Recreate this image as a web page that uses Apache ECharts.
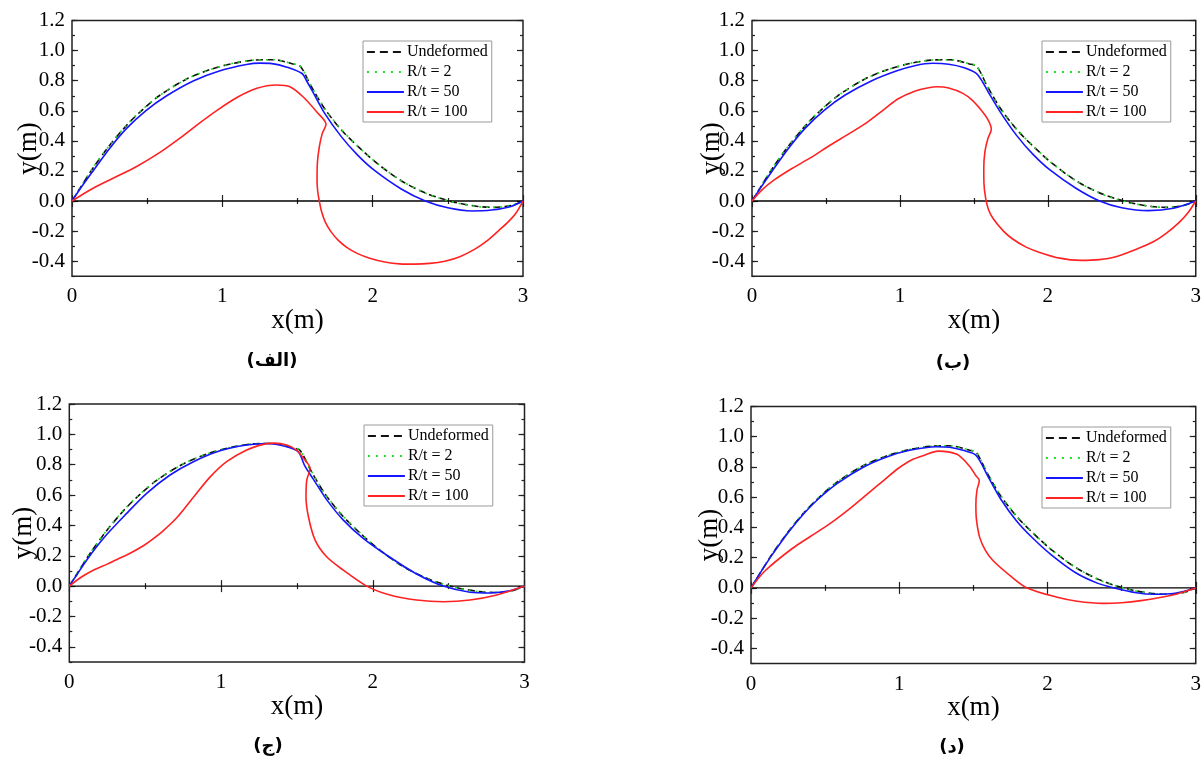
<!DOCTYPE html>
<html><head><meta charset="utf-8">
<script src="https://cdn.jsdelivr.net/npm/echarts@6/dist/echarts.min.js"></script>
<style>html,body{margin:0;padding:0;background:#fff}#c{width:1204px;height:763px}</style>
</head><body><div id="c"></div><script>
// ---------- data ----------
const seriesNames = ['Undeformed', 'R/t = 2', 'R/t = 50', 'R/t = 100'];
const panelLabels = ['(الف)', '(ب)', '(ج)', '(د)'];
const xTickValues = [0, 1, 2, 3];
const yTickValues = [-0.4, -0.2, 0, 0.2, 0.4, 0.6, 0.8, 1.0, 1.2];
const zeroLine = [[0, 0], [3, 0]];

const undeformed = [[0,0],[0.05,0.08],[0.14,0.22],[0.25,0.37],[0.36,0.50],[0.45,0.59],[0.58,0.70],[0.76,0.81],[0.92,0.875],[1.07,0.915],[1.21,0.937],[1.34,0.94],[1.47,0.912],[1.52,0.895],[1.59,0.765],[1.68,0.615],[1.79,0.475],[1.9,0.365],[2.03,0.25],[2.19,0.135],[2.34,0.058],[2.45,0.018],[2.57,-0.014],[2.7,-0.036],[2.8,-0.042],[2.92,-0.03],[3,0]];
const rt2 = [[0,0],[0.05,0.082],[0.14,0.222],[0.25,0.372],[0.36,0.502],[0.45,0.592],[0.58,0.70],[0.76,0.81],[0.92,0.875],[1.07,0.916],[1.21,0.937],[1.34,0.94],[1.47,0.913],[1.52,0.897],[1.59,0.767],[1.68,0.617],[1.79,0.477],[1.9,0.366],[2.03,0.25],[2.19,0.135],[2.34,0.057],[2.45,0.017],[2.57,-0.015],[2.7,-0.037],[2.8,-0.042],[2.92,-0.03],[3,0]];

const rt50A = [[0,0],[0.05,0.075],[0.14,0.2],[0.25,0.35],[0.36,0.48],[0.49,0.6],[0.63,0.7],[0.81,0.8],[0.98,0.865],[1.16,0.908],[1.25,0.917],[1.33,0.914],[1.43,0.89],[1.53,0.848],[1.56,0.8],[1.6,0.73],[1.68,0.585],[1.79,0.43],[1.9,0.305],[2.01,0.205],[2.19,0.08],[2.35,0.0],[2.5,-0.045],[2.66,-0.066],[2.79,-0.06],[2.92,-0.036],[3,0]];
const rt100A = [[0,0],[0.14,0.085],[0.27,0.15],[0.43,0.23],[0.58,0.32],[0.72,0.42],[0.85,0.52],[0.96,0.6],[1.1,0.69],[1.23,0.75],[1.36,0.772],[1.45,0.76],[1.54,0.69],[1.63,0.59],[1.69,0.51],[1.665,0.45],[1.645,0.36],[1.632,0.25],[1.63,0.13],[1.635,0.06],[1.645,0.0],[1.66,-0.07],[1.685,-0.14],[1.72,-0.2],[1.77,-0.26],[1.83,-0.31],[1.9,-0.35],[1.98,-0.38],[2.08,-0.405],[2.18,-0.418],[2.28,-0.42],[2.38,-0.415],[2.48,-0.4],[2.58,-0.37],[2.68,-0.32],[2.76,-0.265],[2.84,-0.195],[2.9,-0.14],[2.95,-0.085],[3,0]];

const rt50B = [[0,0],[0.05,0.076],[0.14,0.205],[0.25,0.355],[0.36,0.485],[0.49,0.605],[0.63,0.705],[0.81,0.8],[0.98,0.866],[1.1,0.9],[1.22,0.916],[1.33,0.91],[1.43,0.888],[1.516,0.849],[1.56,0.79],[1.6,0.72],[1.68,0.59],[1.79,0.435],[1.9,0.31],[2.01,0.21],[2.19,0.085],[2.35,0.0],[2.5,-0.045],[2.68,-0.064],[2.85,-0.048],[3,0]];
const rt100B = [[0,0],[0.064,0.071],[0.15,0.14],[0.27,0.216],[0.4,0.29],[0.527,0.371],[0.66,0.45],[0.783,0.527],[0.9,0.615],[0.989,0.68],[1.1,0.73],[1.194,0.753],[1.25,0.76],[1.33,0.752],[1.426,0.716],[1.49,0.67],[1.545,0.61],[1.593,0.545],[1.618,0.478],[1.595,0.416],[1.575,0.33],[1.567,0.22],[1.568,0.12],[1.58,0.016],[1.6,-0.06],[1.631,-0.118],[1.7,-0.2],[1.76,-0.251],[1.85,-0.305],[1.94,-0.34],[2.08,-0.38],[2.222,-0.395],[2.35,-0.39],[2.453,-0.373],[2.6,-0.32],[2.71,-0.273],[2.8,-0.215],[2.89,-0.14],[2.95,-0.075],[3,0]];

const rt50C = [[0,0],[0.05,0.075],[0.114,0.171],[0.224,0.314],[0.378,0.479],[0.51,0.611],[0.664,0.732],[0.818,0.82],[0.993,0.892],[1.169,0.93],[1.3,0.94],[1.433,0.918],[1.51,0.884],[1.553,0.79],[1.608,0.705],[1.696,0.57],[1.806,0.435],[1.937,0.315],[2.113,0.19],[2.289,0.08],[2.465,0.0],[2.641,-0.04],[2.773,-0.045],[2.905,-0.031],[3,0]];
const rt100C = [[0,0],[0.08,0.06],[0.158,0.105],[0.25,0.145],[0.334,0.185],[0.41,0.222],[0.488,0.266],[0.55,0.31],[0.62,0.366],[0.708,0.45],[0.818,0.585],[0.927,0.718],[1.037,0.82],[1.169,0.897],[1.279,0.934],[1.345,0.942],[1.433,0.93],[1.5,0.895],[1.543,0.842],[1.587,0.776],[1.565,0.699],[1.56,0.589],[1.576,0.457],[1.62,0.303],[1.696,0.193],[1.806,0.105],[1.96,0.0],[2.113,-0.059],[2.289,-0.092],[2.465,-0.103],[2.641,-0.092],[2.817,-0.059],[3,0]];

const rt50D = [[0,0],[0.05,0.08],[0.14,0.215],[0.25,0.365],[0.36,0.495],[0.45,0.585],[0.58,0.69],[0.76,0.8],[0.92,0.868],[1.07,0.91],[1.248,0.934],[1.34,0.93],[1.43,0.91],[1.517,0.878],[1.6,0.735],[1.683,0.59],[1.79,0.445],[1.9,0.33],[2.03,0.215],[2.19,0.1],[2.34,0.03],[2.45,0.0],[2.6,-0.032],[2.72,-0.042],[2.86,-0.035],[3,0]];
const rt100D = [[0,0],[0.097,0.115],[0.276,0.259],[0.4,0.34],[0.532,0.425],[0.66,0.52],[0.788,0.624],[0.9,0.715],[0.992,0.79],[1.08,0.845],[1.171,0.878],[1.261,0.905],[1.33,0.9],[1.40,0.878],[1.478,0.8],[1.515,0.745],[1.54,0.71],[1.524,0.646],[1.517,0.55],[1.52,0.46],[1.542,0.336],[1.58,0.25],[1.632,0.181],[1.76,0.071],[1.862,0],[2.066,-0.062],[2.2,-0.088],[2.373,-0.102],[2.5,-0.098],[2.63,-0.084],[2.83,-0.05],[3,0]];

const panelBlue = [rt50A, rt50B, rt50C, rt50D];
const panelRed = [rt100A, rt100B, rt100C, rt100D];

// ---------- layout / style ----------
const grids = [
  {left: 72, top: 20.6, width: 451, height: 255.6},
  {left: 752, top: 20.6, width: 449, height: 255.6},
  {left: 69.3, top: 404, width: 455.2, height: 258},
  {left: 751, top: 406.5, width: 450, height: 257}
];
const legendPos = [{left: 363, top: 41}, {left: 1042, top: 41}, {left: 364, top: 425}, {left: 1042, top: 427}];
const captionPos = [[272, 361], [953, 363], [268, 746], [952, 747]];
const yNameGap = [30, 27, 32, 28];
const serif = '"Liberation Serif", "Times New Roman", serif';
const colors = ['#111111', '#22dd22', '#1515ff', '#ff2222'];
const dashes = [[7, 4], [2, 5], 'solid', 'solid'];
const legendDashes = [[8, 5], [2, 6], 'solid', 'solid'];
const frameColor = '#222';

const option = {
  animation: false,
  backgroundColor: '#fff',
  grid: [], xAxis: [], yAxis: [], series: [], legend: [], graphic: []
};

grids.forEach((g, i) => {
  option.grid.push(Object.assign({show: true, borderColor: frameColor, borderWidth: 1.5, backgroundColor: 'transparent'}, g));
  const xb = option.xAxis.length;
  option.xAxis.push({
    type: 'value', gridIndex: i, min: 0, max: 3, interval: 1, position: 'bottom',
    name: 'x(m)', nameLocation: 'middle', nameGap: 31, nameMoveOverlap: false,
    nameTextStyle: {fontFamily: serif, fontSize: 27, color: '#000'},
    axisLine: {show: false},
    axisTick: {show: true, inside: true, length: 6, lineStyle: {color: frameColor, width: 1.2}},
    minorTick: {show: true, splitNumber: 2, length: 3, lineStyle: {color: frameColor, width: 1.2}},
    axisLabel: {fontFamily: serif, fontSize: 21, color: '#000', margin: 10},
    splitLine: {show: false}, minorSplitLine: {show: false}
  });
  option.xAxis.push({
    type: 'value', gridIndex: i, min: 0, max: 3, interval: 1, position: 'top',
    axisLine: {show: false},
    axisTick: {show: true, inside: true, length: 6, lineStyle: {color: frameColor, width: 1.2}},
    minorTick: {show: true, splitNumber: 2, length: 3, lineStyle: {color: frameColor, width: 1.2}},
    axisLabel: {show: false}, splitLine: {show: false}
  });
  const yl = option.yAxis.length;
  option.yAxis.push({
    type: 'value', gridIndex: i, min: -0.5, max: 1.2, position: 'left',
    name: 'y(m)', nameLocation: 'middle', nameGap: yNameGap[i], nameMoveOverlap: false,
    nameTextStyle: {fontFamily: serif, fontSize: 27, color: '#000'},
    axisLine: {show: false},
    axisTick: {show: true, inside: true, length: 6, customValues: yTickValues, lineStyle: {color: frameColor, width: 1.2}},
    axisLabel: {fontFamily: serif, fontSize: 21, color: '#000', margin: 7, customValues: yTickValues,
      formatter: v => v.toFixed(1)},
    splitLine: {show: false}
  });
  option.yAxis.push({
    type: 'value', gridIndex: i, min: -0.5, max: 1.2, interval: 0.1, position: 'left',
    axisLine: {show: false},
    axisTick: {show: true, inside: true, length: 3, lineStyle: {color: frameColor, width: 1.2}},
    axisLabel: {show: false}, splitLine: {show: false}
  });
  option.yAxis.push({
    type: 'value', gridIndex: i, min: -0.5, max: 1.2, position: 'right',
    axisLine: {show: false},
    axisTick: {show: true, inside: true, length: 6, customValues: yTickValues, lineStyle: {color: frameColor, width: 1.2}},
    axisLabel: {show: false}, splitLine: {show: false}
  });
  option.yAxis.push({
    type: 'value', gridIndex: i, min: -0.5, max: 1.2, interval: 0.1, position: 'right',
    axisLine: {show: false},
    axisTick: {show: true, inside: true, length: 3, lineStyle: {color: frameColor, width: 1.2}},
    axisLabel: {show: false}, splitLine: {show: false}
  });

  const base = {type: 'line', xAxisIndex: xb, yAxisIndex: yl, showSymbol: false, symbol: 'none', smooth: 0.3, silent: true, clip: true};
  option.series.push(Object.assign({}, base, {name: '_zero', data: zeroLine, smooth: false, lineStyle: {color: '#000', width: 1.4}, z: 1}));
  const dataSets = [undeformed, rt2, panelBlue[i], panelRed[i]];
  seriesNames.forEach((nm, k) => {
    option.series.push(Object.assign({}, base, {
      name: nm, data: dataSets[k],
      lineStyle: {color: colors[k], width: 1.6, type: dashes[k]},
      itemStyle: {color: colors[k]}, z: 2 + k
    }));
  });

  option.legend.push(Object.assign({
    data: seriesNames.map((nm, k) => ({name: nm, lineStyle: {type: legendDashes[k], width: 1.8}})),
    orient: 'vertical', selectedMode: false,
    itemWidth: 37, itemHeight: 14, itemGap: 4,
    padding: [3, 4, 2, 3],
    borderColor: '#9a9a9a', borderWidth: 1, backgroundColor: '#fff',
    itemStyle: {opacity: 0, borderWidth: 0},
    textStyle: {fontFamily: serif, fontSize: 16, color: '#000', lineHeight: 16, padding: [0, 0, 0, -2]}
  }, legendPos[i]));

  option.graphic.push({
    type: 'text', x: captionPos[i][0], y: captionPos[i][1],
    style: {text: panelLabels[i], textAlign: 'center', textVerticalAlign: 'middle',
      font: 'bold 18px "DejaVu Sans", sans-serif', fill: '#000'}
  });
});

const chart = echarts.init(document.getElementById('c'), null, {renderer: 'canvas'});
chart.setOption(option);
</script></body></html>
